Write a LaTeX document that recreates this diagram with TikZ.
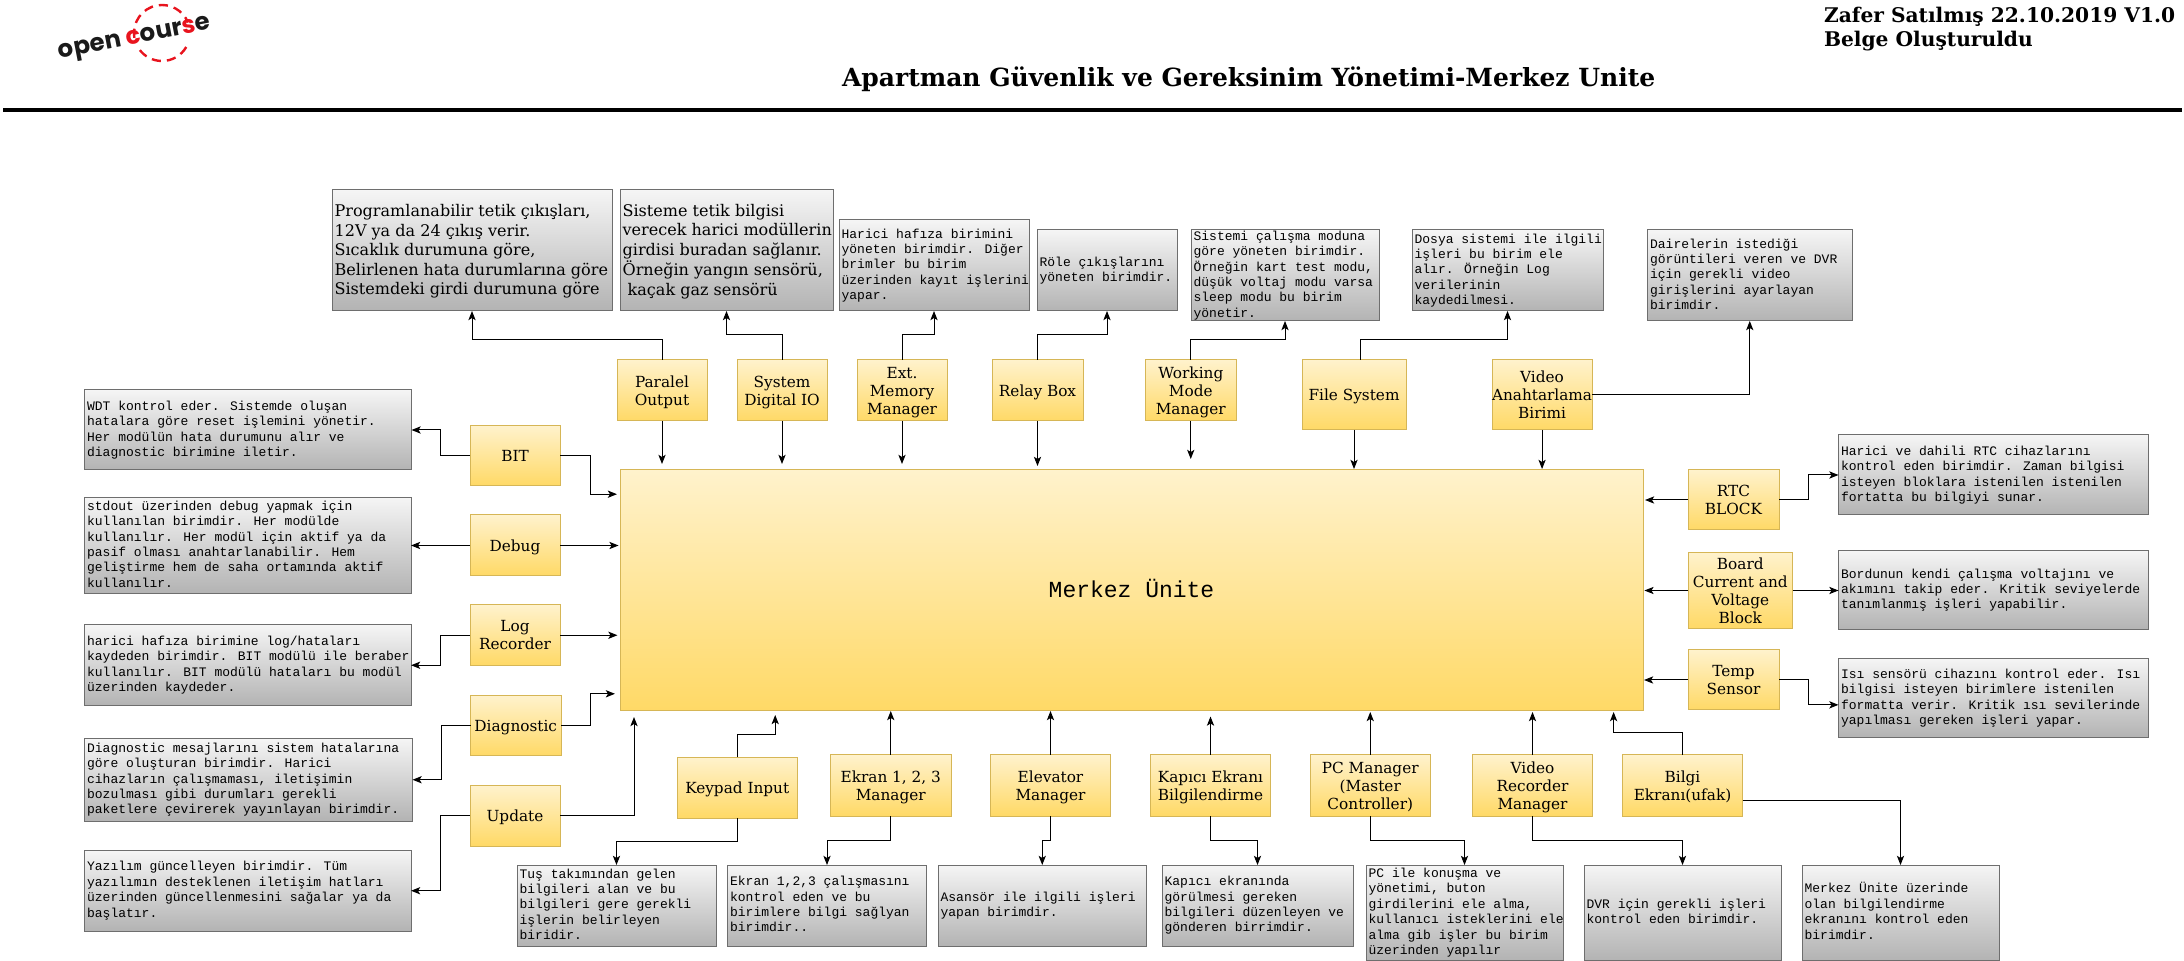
\documentclass[tikz,border=0pt]{standalone}
\usepackage{fontspec}
\usetikzlibrary{arrows.meta,calc}
\newfontfamily\serfam{DejaVu Serif}
\newfontfamily\monfam{Liberation Mono}
\newfontfamily\logofam{Poppins}
\definecolor{gfill}{HTML}{F5F5F5}
\definecolor{gend}{HTML}{B3B3B3}
\definecolor{gline}{HTML}{6E6E6E}
\definecolor{yfill}{HTML}{FFF2CC}
\definecolor{yend}{HTML}{FFD966}
\definecolor{yline}{HTML}{D6B656}
\definecolor{logored}{HTML}{E8141E}
\definecolor{logoblack}{HTML}{1A1A1A}
\tikzset{
  base/.style={rectangle,inner sep=0pt,outer sep=0pt,line width=0.5pt},
  yellowbox/.style={base,draw=yline,top color=yfill,bottom color=yend,font=\serfam\fontsize{7.65pt}{9pt}\selectfont},
  greybox/.style={base,draw=gline,top color=gfill,bottom color=gend,font=\monfam\fontsize{6.5pt}{7.7pt}\selectfont},
  greyser/.style={greybox,font=\serfam\fontsize{8.02pt}{9.75pt}\selectfont},
  centerbox/.style={yellowbox,font=\monfam\fontsize{11.5pt}{13pt}\selectfont},
  conn/.style={draw=black,line width=0.5pt,-{Stealth[length=4.6pt,width=3.6pt,inset=1.1pt]}},
  heading/.style={inner sep=0pt,outer sep=0pt,font=\serfam\bfseries\fontsize{12.5pt}{12pt}\selectfont},
  author/.style={inner sep=0pt,outer sep=0pt,align=left,font=\serfam\bfseries\fontsize{10.1pt}{12pt}\selectfont},
}
\newcommand{\bx}[7]{%
  \pgfmathsetmacro\bw{(#5-#3)*0.5}%
  \pgfmathsetmacro\bh{(#6-#4)*0.5}%
  \node[#1,minimum width=\bw pt,minimum height=\bh pt,anchor=north west] (#2) at (#3,#4) {#7};}
\newcommand{\yl}[1]{\raisebox{-0.4em}[0pt][0pt]{\begin{tabular}{@{}c@{}}#1\end{tabular}}}
\newcommand{\cl}[1]{\raisebox{-0.34em}[0pt][0pt]{\begin{tabular}{@{}c@{}}#1\end{tabular}}}
\newcommand{\gl}[1]{\raisebox{-0.25em}[0pt][0pt]{\makebox[\bw pt][l]{\hspace{1.3pt}\begin{tabular}{@{}l@{}}#1\end{tabular}}}}
\newcommand{\slx}[1]{\raisebox{-0.34em}[0pt][0pt]{\makebox[\bw pt][l]{\hspace{1.3pt}\begin{tabular}{@{}l@{}}#1\end{tabular}}}}
\begin{document}
\begin{tikzpicture}[x=0.5pt,y=-0.5pt]
\useasboundingbox (0,0) rectangle (2184,961);
% header
\node[inner sep=0pt,outer sep=0pt,rotate=11,font=\logofam\bfseries\fontsize{12.2pt}{12pt}\selectfont,text=logoblack] (logo) at (135,40) {open \textcolor{logored}{c}our\textcolor{logored}{s}e};
\coordinate (logoc) at (162,33);
\draw[logored,line width=1.2pt,dash pattern=on 4.6pt off 3pt] (logoc) ++(190:14pt) arc[start angle=190,end angle=22,radius=14pt];
\draw[logored,line width=1.2pt,dash pattern=on 4.6pt off 3pt] (logoc) ++(-30:14pt) arc[start angle=-30,end angle=-145,radius=14pt];
\node[heading,anchor=west] (title) at (842,79) {Apartman Güvenlik ve Gereksinim Yönetimi-Merkez Unite};
\node[author,anchor=north west] (auth) at (1824,7) {Zafer Satılmış 22.10.2019 V1.0\\Belge Oluşturuldu};
\coordinate (ruleL) at (3,110);
\coordinate (ruleR) at (2182,110);
\draw[line width=2pt] (ruleL) -- (ruleR);
% central
\bx{centerbox}{cen}{620}{470}{1643}{711}{\cl{Merkez Ünite}}
% top yellow
\bx{yellowbox}{para}{617}{360}{707}{421}{\yl{Paralel\\Output}}
\bx{yellowbox}{sysio}{737}{360}{827}{421}{\yl{System\\Digital IO}}
\bx{yellowbox}{ext}{857}{360}{947}{421}{\yl{Ext.\\Memory\\Manager}}
\bx{yellowbox}{relay}{992}{360}{1083}{421}{\yl{Relay Box}}
\bx{yellowbox}{work}{1145.5}{360}{1236}{421}{\yl{Working\\Mode\\Manager}}
\bx{yellowbox}{file}{1302}{360}{1406}{430}{\yl{File System}}
\bx{yellowbox}{vid}{1492}{360}{1592}{430}{\yl{Video\\Anahtarlama\\Birimi}}
% top grey
\bx{greyser}{gpara}{332}{190}{612}{311}{\slx{Programlanabilir tetik çıkışları,\\12V ya da 24 çıkış verir.\\Sıcaklık durumuna göre,\\Belirlenen hata durumlarına göre\\Sistemdeki girdi durumuna göre}}
\bx{greyser}{gsys}{620}{190}{833}{311}{\slx{Sisteme tetik bilgisi\\verecek harici modüllerin\\girdisi buradan sağlanır.\\Örneğin yangın sensörü,\\\ kaçak gaz sensörü}}
\bx{greybox}{gext}{839}{220}{1029}{311}{\gl{Harici hafıza birimini\\yöneten birimdir. Diğer\\brimler bu birim\\üzerinden kayıt işlerini\\yapar.}}
\bx{greybox}{grel}{1037}{230}{1177}{311}{\gl{Röle çıkışlarını\\yöneten birimdir.}}
\bx{greybox}{gwork}{1191}{230}{1379}{321}{\gl{Sistemi çalışma moduna\\göre yöneten birimdir.\\Örneğin kart test modu,\\düşük voltaj modu varsa\\sleep modu bu birim\\yönetir.}}
\bx{greybox}{gfile}{1412}{230}{1603}{311}{\gl{Dosya sistemi ile ilgili\\işleri bu birim ele\\alır. Örneğin Log\\verilerinin\\kaydedilmesi.}}
\bx{greybox}{gvid}{1647.5}{230}{1852}{321}{\gl{Dairelerin istediği\\görüntileri veren ve DVR\\için gerekli video\\girişlerini ayarlayan\\birimdir.}}
% left yellow
\bx{yellowbox}{bit}{470}{425.5}{560}{486}{\yl{BIT}}
\bx{yellowbox}{dbg}{470}{515}{560}{576}{\yl{Debug}}
\bx{yellowbox}{logr}{470}{605}{560}{665.5}{\yl{Log\\Recorder}}
\bx{yellowbox}{diag}{470.5}{695.5}{561}{756}{\yl{Diagnostic}}
\bx{yellowbox}{upd}{470}{785.5}{560}{846}{\yl{Update}}
% left grey
\bx{greybox}{gbit}{84.5}{390}{411.5}{470}{\gl{WDT kontrol eder. Sistemde oluşan\\hatalara göre reset işlemini yönetir.\\Her modülün hata durumunu alır ve\\diagnostic birimine iletir.}}
\bx{greybox}{gdbg}{84.5}{497.5}{411}{593.5}{\gl{stdout üzerinden debug yapmak için\\kullanılan birimdir. Her modülde\\kullanılır. Her modül için aktif ya da\\pasif olması anahtarlanabilir. Hem\\geliştirme hem de saha ortamında aktif\\kullanılır.}}
\bx{greybox}{glog}{84.5}{625}{411}{705.5}{\gl{harici hafıza birimine log/hataları\\kaydeden birimdir. BIT modülü ile beraber\\kullanılır. BIT modülü hataları bu modül\\üzerinden kaydeder.}}
\bx{greybox}{gdiag}{84.5}{738.5}{412.5}{821}{\gl{Diagnostic mesajlarını sistem hatalarına\\göre oluşturan birimdir. Harici\\cihazların çalışmaması, iletişimin\\bozulması gibi durumları gerekli\\paketlere çevirerek yayınlayan birimdir.}}
\bx{greybox}{gupd}{84.5}{850.5}{411}{931}{\gl{Yazılım güncelleyen birimdir. Tüm\\yazılımın desteklenen iletişim hatları\\üzerinden güncellenmesini sağalar ya da\\başlatır.}}
% bottom yellow
\bx{yellowbox}{key}{677}{757.5}{797.5}{818}{\yl{Keypad Input}}
\bx{yellowbox}{ekr}{830.5}{755}{951}{816}{\yl{Ekran 1, 2, 3\\Manager}}
\bx{yellowbox}{ele}{990.5}{755}{1110.5}{816}{\yl{Elevator\\Manager}}
\bx{yellowbox}{kap}{1150.5}{755}{1270.5}{816}{\yl{Kapıcı Ekranı\\Bilgilendirme}}
\bx{yellowbox}{pcm}{1310}{755}{1430.5}{816}{\yl{PC Manager\\(Master\\Controller)}}
\bx{yellowbox}{rec}{1472.5}{755}{1592.5}{816}{\yl{Video\\Recorder\\Manager}}
\bx{yellowbox}{bil}{1622.5}{755}{1742.5}{816}{\yl{Bilgi\\Ekranı(ufak)}}
% bottom grey
\bx{greybox}{gkey}{517}{865}{716}{946}{\gl{Tuş takımından gelen\\bilgileri alan ve bu\\bilgileri gere gerekli\\işlerin belirleyen\\biridir.}}
\bx{greybox}{gekr}{727.5}{865}{926.5}{946}{\gl{Ekran 1,2,3 çalışmasını\\kontrol eden ve bu\\birimlere bilgi sağlyan\\birimdir..}}
\bx{greybox}{gele}{938}{865}{1146.5}{946}{\gl{Asansör ile ilgili işleri\\yapan birimdir.}}
\bx{greybox}{gkap}{1162}{865}{1353}{946}{\gl{Kapıcı ekranında\\görülmesi gereken\\bilgileri düzenleyen ve\\gönderen birrimdir.}}
\bx{greybox}{gpcm}{1366}{865}{1563}{960.5}{\gl{PC ile konuşma ve\\yönetimi, buton\\girdilerini ele alma,\\kullanıcı isteklerini ele\\alma gib işler bu birim\\üzerinden yapılır}}
\bx{greybox}{grec}{1584}{865}{1781}{960.5}{\gl{DVR için gerekli işleri\\kontrol eden birimdir.}}
\bx{greybox}{gbil}{1802}{865}{1999}{960.5}{\gl{Merkez Ünite üzerinde\\olan bilgilendirme\\ekranını kontrol eden\\birimdir.}}
% right yellow
\bx{yellowbox}{rtc}{1688}{470}{1779}{530}{\yl{RTC\\BLOCK}}
\bx{yellowbox}{brd}{1688}{552.5}{1792.5}{628.5}{\yl{Board\\Current and\\Voltage\\Block}}
\bx{yellowbox}{tmp}{1688}{650}{1779}{710}{\yl{Temp\\Sensor}}
% right grey
\bx{greybox}{grtc}{1838.5}{435}{2148.5}{515}{\gl{Harici ve dahili RTC cihazlarını\\kontrol eden birimdir. Zaman bilgisi\\isteyen bloklara istenilen istenilen\\fortatta bu bilgiyi sunar.}}
\bx{greybox}{gbrd}{1838.5}{550.5}{2148.5}{630}{\gl{Bordunun kendi çalışma voltajını ve\\akımını takip eder. Kritik seviyelerde\\tanımlanmış işleri yapabilir.}}
\bx{greybox}{gtmp}{1838.5}{658.5}{2148.5}{738}{\gl{Isı sensörü cihazını kontrol eder. Isı\\bilgisi isteyen birimlere istenilen\\formatta verir. Kritik ısı sevilerinde\\yapılması gereken işleri yapar.}}
% top connectors
\draw[conn] (para.north) -- ++(0,-20) -| (gpara.south);
\draw[conn] (sysio.north) -- ++(0,-25) -| (gsys.south);
\draw[conn] (ext.north) -- ++(0,-25) -| (gext.south);
\draw[conn] (relay.north) -- ++(0,-25) -| (grel.south);
\draw[conn] (work.north) -- ++(0,-20) -| (gwork.south);
\draw[conn] ([xshift=3pt]file.north) -- ++(0,-20) -| (gfile.south);
\draw[conn] (vid.east) -| (gvid.south);
\draw[conn,shorten >=3pt] (para.south) -- (para.south |- cen.north);
\draw[conn,shorten >=3pt] (sysio.south) -- (sysio.south |- cen.north);
\draw[conn,shorten >=3pt] (ext.south) -- (ext.south |- cen.north);
\draw[conn,shorten >=2pt] (relay.south) -- (relay.south |- cen.north);
\draw[conn,shorten >=5.5pt] (work.south) -- (work.south |- cen.north);
\draw[conn,shorten >=0.5pt] (file.south) -- (file.south |- cen.north);
\draw[conn,shorten >=0.5pt] (vid.south) -- (vid.south |- cen.north);
% left connectors
\draw[conn] (bit.west) -- ++(-30,0) |- (gbit.east);
\draw[conn] (dbg.west) -- (dbg.west -| gdbg.east);
\draw[conn] (logr.west) -- ++(-30,0) |- (glog.east);
\draw[conn] (diag.west) -- ++(-29,0) |- (gdiag.east);
\draw[conn] (upd.west) -- ++(-30,0) |- (gupd.east);
\draw[conn,shorten >=1.5pt] (bit.east) -- ++(30.5,0) |- ([yshift=-12.1pt]cen.north west);
\draw[conn,shorten >=0.7pt] (dbg.east) -- (dbg.east -| cen.west);
\draw[conn,shorten >=1.25pt] (logr.east) -- (logr.east -| cen.west);
\draw[conn,shorten >=2.5pt] (diag.east) -- ++(29.5,0) |- ([yshift=8.6pt]cen.south west);
\draw[conn] (upd.east) -| ([xshift=7pt,yshift=-3pt]cen.south west);
% bottom connectors
\draw[conn,shorten >=2pt] (key.north) -- ++(0,-23) -| ([xshift=77.6pt]cen.south west);
\draw[conn] (ekr.north) -- (ekr.north |- cen.south);
\draw[conn] (ele.north) -- (ele.north |- cen.south);
\draw[conn,shorten >=2.75pt] (kap.north) -- (kap.north |- cen.south);
\draw[conn,shorten >=0.5pt] (pcm.north) -- (pcm.north |- cen.south);
\draw[conn,shorten >=0.5pt] (rec.north) -- (rec.north |- cen.south);
\draw[conn,shorten >=0.5pt] (bil.north) -- ++(0,-22) -| ([xshift=-14.7pt]cen.south east);
\draw[conn] (key.south) -- ++(0,23) -| (gkey.north);
\draw[conn] (ekr.south) -- ++(0,24.3) -| (gekr.north);
\draw[conn] (ele.south) -- ++(0,24.3) -| (gele.north);
\draw[conn] (kap.south) -- ++(0,24.3) -| (gkap.north);
\draw[conn] (pcm.south) -- ++(0,24.3) -| (gpcm.north);
\draw[conn] (rec.south) -- ++(0,24.3) -| (grec.north);
\draw[conn] ([yshift=-7.5pt]bil.east) -| (gbil.north);
% right connectors
\draw[conn,shorten >=1pt] (rtc.west) -- (rtc.west -| cen.east);
\draw[conn,shorten >=0.7pt] (brd.west) -- (brd.west -| cen.east);
\draw[conn,shorten >=0.5pt] (tmp.west) -- (tmp.west -| cen.east);
\draw[conn] (rtc.east) -- ++(29,0) |- (grtc.west);
\draw[conn] (brd.east) -- (brd.east -| gbrd.west);
\draw[conn] (tmp.east) -- ++(29,0) |- ([yshift=-3.3pt]gtmp.west);
\end{tikzpicture}
\end{document}
